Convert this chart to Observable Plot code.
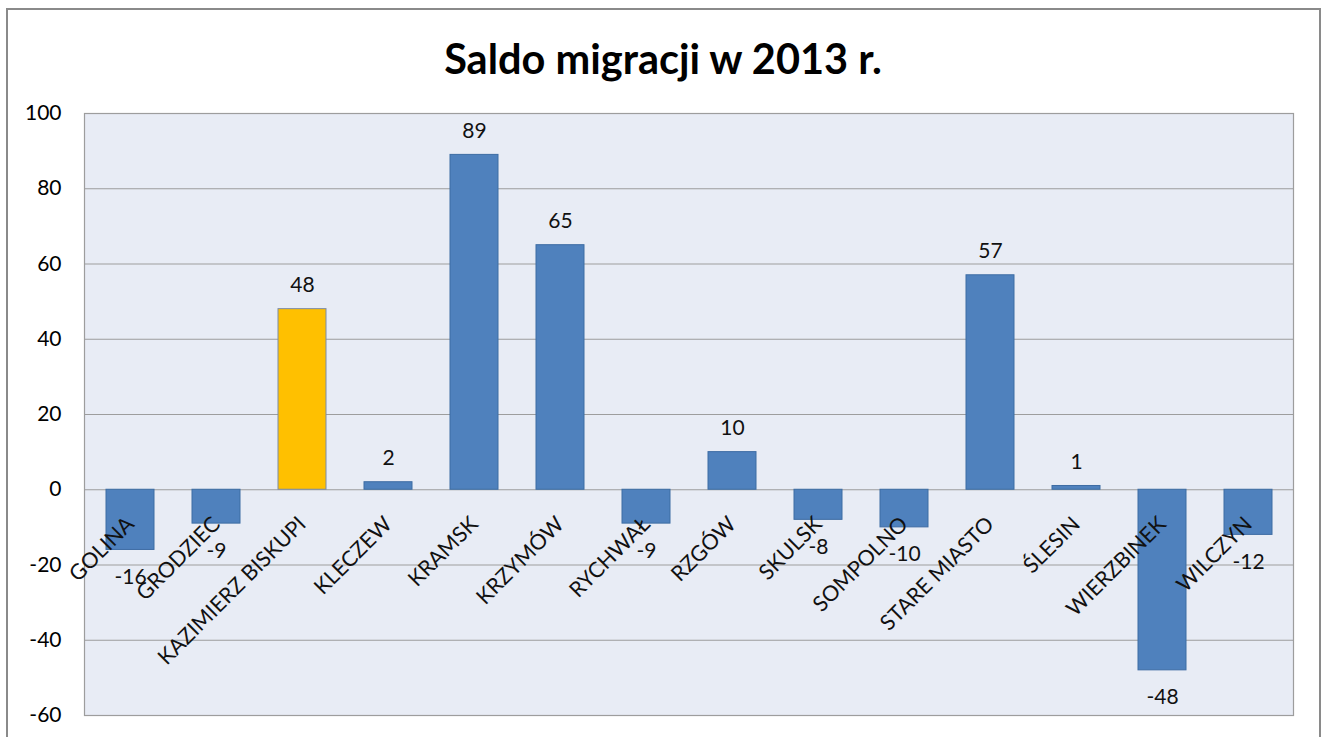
<!DOCTYPE html>
<html>
<head>
<meta charset="utf-8">
<script src="https://cdn.jsdelivr.net/npm/d3@7"></script>
<script src="https://cdn.jsdelivr.net/npm/@observablehq/plot@0.6"></script>
<style>
  html, body { margin: 0; padding: 0; background: #fff; overflow: hidden; }
  #wrap { position: relative; width: 1326px; height: 737px; overflow: hidden; background: #fff; }
  #frame { position: absolute; left: 6px; top: 8px; width: 1315px; height: 760px; border: 2px solid #8a8a8a; box-sizing: border-box; }
  #title { position: absolute; left: 0; top: 37px; width: 1326px; text-align: center; font-family: Lato, sans-serif; font-weight: bold; font-size: 41.5px; line-height: 42px; color: #000; }
  #chart { position: absolute; left: 0; top: 0; }
</style>
</head>
<body>
<div id="wrap">
  <div id="frame"></div>
  <div id="chart"></div>
  <div id="title">Saldo migracji w 2013 r.</div>
</div>
<script>
const gminy = ["GOLINA", "GRODZIEC", "KAZIMIERZ BISKUPI", "KLECZEW", "KRAMSK", "KRZYMÓW", "RYCHWAŁ", "RZGÓW", "SKULSK", "SOMPOLNO", "STARE MIASTO", "ŚLESIN", "WIERZBINEK", "WILCZYN"];
const saldo = [-16, -9, 48, 2, 89, 65, -9, 10, -8, -10, 57, 1, -48, -12];
const highlighted = ["KAZIMIERZ BISKUPI"];
const yTicks = [-60, -40, -20, 0, 20, 40, 60, 80, 100];

const data = gminy.map((name, i) => ({name, value: saldo[i]}));
const pos = data.filter(d => d.value >= 0);
const neg = data.filter(d => d.value < 0);

const chart = Plot.plot({
  width: 1326,
  height: 737,
  marginLeft: 84,
  marginRight: 33,
  marginTop: 113,
  marginBottom: 22,
  style: {fontFamily: "Lato, sans-serif", fontSize: "21px", color: "#000", background: "transparent"},
  x: {domain: gminy, axis: null, paddingInner: 0.444, paddingOuter: 0.222},
  y: {domain: [-60, 100], ticks: yTicks, tickSize: 0, tickPadding: 23, tickFormat: d => String(d), label: null},
  color: {type: "identity"},
  marks: [
    Plot.frame({fill: "#E8ECF5", stroke: null}),
    Plot.ruleY(yTicks, {stroke: "#9d9d9d", strokeWidth: 1.2}),
    Plot.barY(data, {
      x: "name", y: "value",
      fill: d => highlighted.includes(d.name) ? "#FFC000" : "#4F81BD",
      stroke: d => highlighted.includes(d.name) ? "#7A8BA8" : "#3D6CA3",
      strokeWidth: 1
    }),
    Plot.frame({stroke: "#9d9d9d", strokeWidth: 1.2}),
    Plot.text(pos, {x: "name", y: "value", text: d => String(d.value), lineAnchor: "bottom", dy: -17, fontSize: 21, fill: "#111"}),
    Plot.text(neg, {x: "name", y: "value", text: d => String(d.value), lineAnchor: "top", dy: 19, fontSize: 21, fill: "#111"}),
    Plot.text(data, {x: "name", y: () => 0, text: "name", rotate: -45, textAnchor: "end", lineAnchor: "top", dx: -6, dy: 25, fontSize: 21.5, fill: "#111"})
  ]
});
document.getElementById("chart").appendChild(chart);
</script>
</body>
</html>
